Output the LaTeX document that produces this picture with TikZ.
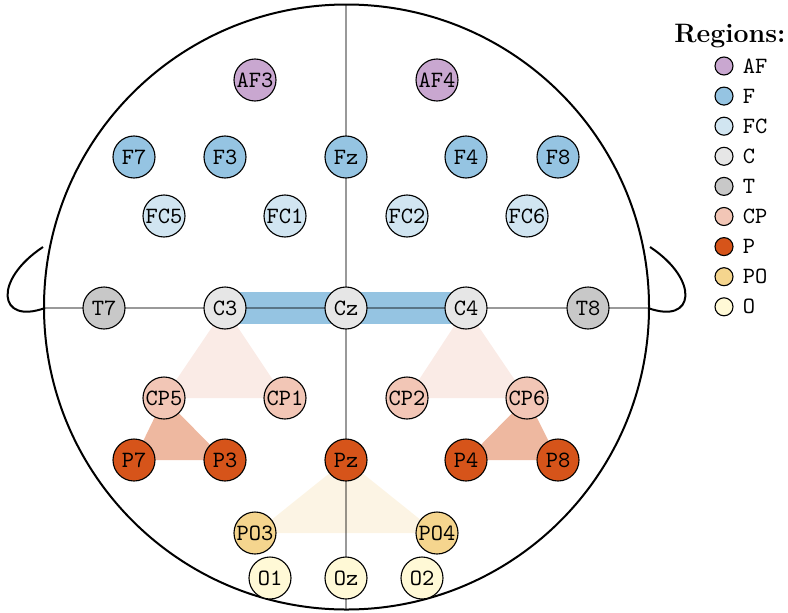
\documentclass[tikz,border=0pt]{standalone}
\definecolor{cAF}{HTML}{C9A7D0}
\definecolor{cF}{HTML}{95C4E2}
\definecolor{cFC}{HTML}{D1E5F1}
\definecolor{cC}{HTML}{E6E6E6}
\definecolor{cT}{HTML}{C8C8C8}
\definecolor{cCP}{HTML}{F2C6B6}
\definecolor{cP}{HTML}{D6541A}
\definecolor{cPO}{HTML}{F5D58E}
\definecolor{cO}{HTML}{FFF9D6}
\definecolor{triCP}{HTML}{FAEBE6}
\definecolor{triP}{HTML}{EEB8A0}
\definecolor{triPO}{HTML}{FCF4E4}
\begin{document}
\begin{tikzpicture}[x=0.45pt,y=-0.45pt,
  elec/.style={circle,draw=black,line width=0.5pt,minimum size=18.9pt,inner sep=0pt,
    font=\fontsize{10.5pt}{12pt}\selectfont\ttfamily},
  legdot/.style={circle,draw=black,line width=0.5pt,minimum size=8.1pt,inner sep=0pt},
  legtxt/.style={anchor=west,inner sep=0pt,xshift=4pt,font=\fontsize{10.5pt}{12pt}\selectfont\ttfamily},
  axis/.style={draw=black,opacity=0.4,line width=0.5pt},
  outline/.style={line width=0.9pt}]
\useasboundingbox (0,0) rectangle (788,612);

% head outline and ears
\coordinate (ctr) at (346.5,307);
\draw[outline] (ctr) circle (302.5);
\draw[outline] (43,247) .. controls (-7,280) and (-2,325) .. (45,308);
\draw[outline] (650,247) .. controls (700,280) and (695,325) .. (648,308);

% electrode positions
\coordinate (pAF3) at (255,80);  \coordinate (pAF4) at (437,80);
\coordinate (pF7) at (134,157);  \coordinate (pF3) at (225,157);
\coordinate (pFz) at (346,157);  \coordinate (pF4) at (466,157);
\coordinate (pF8) at (558,157);
\coordinate (pFC5) at (164,216); \coordinate (pFC1) at (285,216);
\coordinate (pFC2) at (407,216); \coordinate (pFC6) at (527,216);
\coordinate (pT7) at (104,308);  \coordinate (pC3) at (225,308);
\coordinate (pCz) at (346,308);  \coordinate (pC4) at (466,308);
\coordinate (pT8) at (588,308);
\coordinate (pCP5) at (164,398); \coordinate (pCP1) at (285,398);
\coordinate (pCP2) at (407,398); \coordinate (pCP6) at (527,398);
\coordinate (pP7) at (134,460);  \coordinate (pP3) at (225,460);
\coordinate (pPz) at (346,460);  \coordinate (pP4) at (466,460);
\coordinate (pP8) at (558,460);
\coordinate (pPO3) at (255,533); \coordinate (pPO4) at (437,533);
\coordinate (pO1) at (270,578);  \coordinate (pOz) at (346,578);
\coordinate (pO2) at (422,578);

% highlighted groups
\fill[triCP] (pC3) -- (pCP5) -- (pCP1) -- cycle;
\fill[triCP] (pC4) -- (pCP2) -- (pCP6) -- cycle;
\fill[triP] (pCP5) -- (pP7) -- (pP3) -- cycle;
\fill[triP] (pCP6) -- (pP4) -- (pP8) -- cycle;
\fill[triPO] (pPz) -- (pPO3) -- (pPO4) -- cycle;
\draw[cF,line width=14.3pt] (pC3) -- (pC4);

% midlines
\coordinate (top) at (346,5);   \coordinate (bot) at (346,609);
\coordinate (lft) at (44,308);  \coordinate (rgt) at (649,308);
\draw[axis] (top) -- (bot);
\draw[axis] (lft) -- (rgt);

% electrodes
\node[elec,fill=cAF] (AF3) at (pAF3) {AF3};
\node[elec,fill=cAF] (AF4) at (pAF4) {AF4};
\node[elec,fill=cF] (F7) at (pF7) {F7};
\node[elec,fill=cF] (F3) at (pF3) {F3};
\node[elec,fill=cF] (Fz) at (pFz) {Fz};
\node[elec,fill=cF] (F4) at (pF4) {F4};
\node[elec,fill=cF] (F8) at (pF8) {F8};
\node[elec,fill=cFC] (FC5) at (pFC5) {FC5};
\node[elec,fill=cFC] (FC1) at (pFC1) {FC1};
\node[elec,fill=cFC] (FC2) at (pFC2) {FC2};
\node[elec,fill=cFC] (FC6) at (pFC6) {FC6};
\node[elec,fill=cT] (T7) at (pT7) {T7};
\node[elec,fill=cC] (C3) at (pC3) {C3};
\node[elec,fill=cC] (Cz) at (pCz) {Cz};
\node[elec,fill=cC] (C4) at (pC4) {C4};
\node[elec,fill=cT] (T8) at (pT8) {T8};
\node[elec,fill=cCP] (CP5) at (pCP5) {CP5};
\node[elec,fill=cCP] (CP1) at (pCP1) {CP1};
\node[elec,fill=cCP] (CP2) at (pCP2) {CP2};
\node[elec,fill=cCP] (CP6) at (pCP6) {CP6};
\node[elec,fill=cP] (P7) at (pP7) {P7};
\node[elec,fill=cP] (P3) at (pP3) {P3};
\node[elec,fill=cP] (Pz) at (pPz) {Pz};
\node[elec,fill=cP] (P4) at (pP4) {P4};
\node[elec,fill=cP] (P8) at (pP8) {P8};
\node[elec,fill=cPO] (PO3) at (pPO3) {PO3};
\node[elec,fill=cPO] (PO4) at (pPO4) {PO4};
\node[elec,fill=cO] (O1) at (pO1) {O1};
\node[elec,fill=cO] (Oz) at (pOz) {Oz};
\node[elec,fill=cO] (O2) at (pO2) {O2};

% legend
\node[anchor=east,inner sep=0pt,font=\large\bfseries] (ttl) at (786,36) {Regions:};
\foreach \nm/\cl [count=\i from 0] in {AF/cAF,F/cF,FC/cFC,C/cC,T/cT,CP/cCP,P/cP,PO/cPO,O/cO}{
  \node[legdot,fill=\cl] (l\nm) at (724,66+30.1*\i) {};
  \node[legtxt] (t\nm) at (l\nm.east) {\nm};
}
\end{tikzpicture}
\end{document}
